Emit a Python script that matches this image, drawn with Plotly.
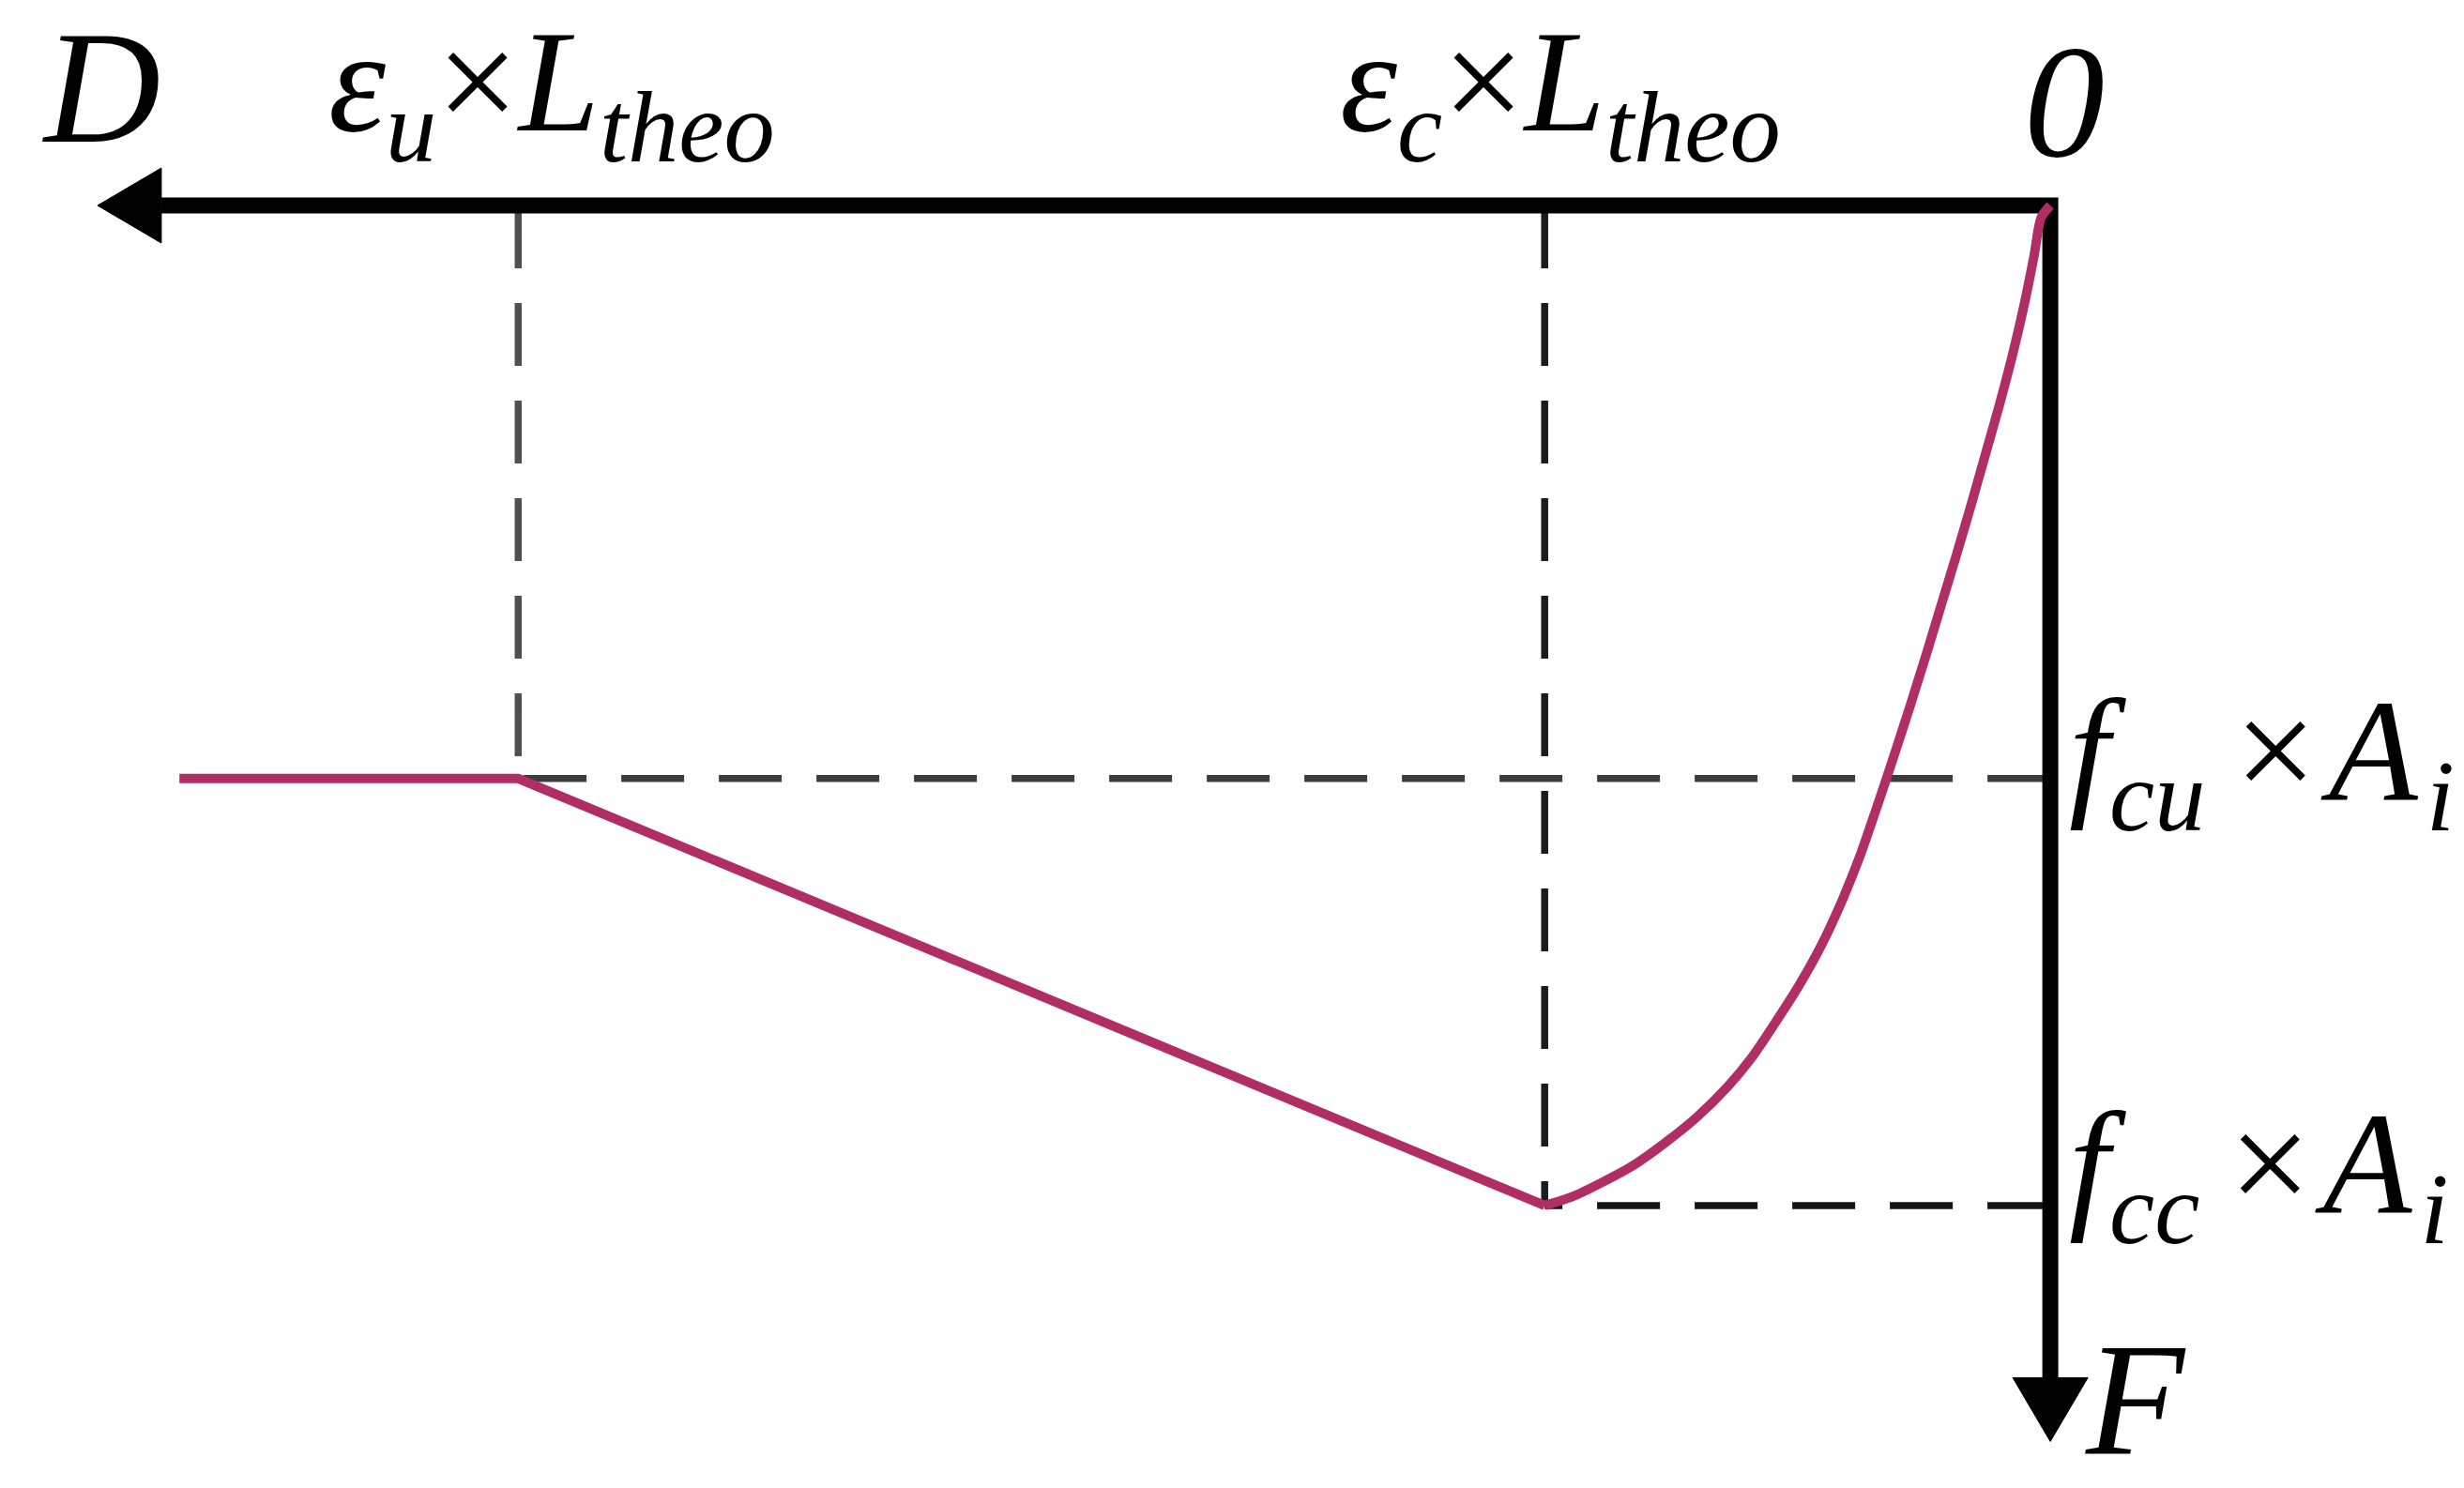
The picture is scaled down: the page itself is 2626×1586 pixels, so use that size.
import plotly.graph_objects as go

# ---------------- data (normalised: eps_c*L_theo = 1, f_cc*A_i = 1) ----------------
# ascending (pre-peak) branch
D_curve = [0.0, 0.018, 0.032, 0.052, 0.075, 0.101, 0.129, 0.157, 0.186, 0.216, 0.246,
           0.277, 0.309, 0.342, 0.376, 0.410, 0.453, 0.497, 0.545, 0.592, 0.638,
           0.700, 0.761, 0.825, 0.885, 0.945, 1.0]
F_curve = [0.0, 0.012, 0.05, 0.10, 0.15, 0.20, 0.25, 0.30, 0.35, 0.40, 0.45,
           0.50, 0.55, 0.60, 0.65, 0.693, 0.740, 0.780, 0.818, 0.853, 0.881,
           0.912, 0.937, 0.960, 0.9765, 0.991, 1.0]

eps_c_L = 1.0      # eps_c x L_theo
eps_u_L = 3.03     # eps_u x L_theo
fcc_A = 1.0        # f_cc x A_i
fcu_A = 0.573      # f_cu x A_i
D_end = 3.70       # end of plateau

D_post = [eps_c_L, eps_u_L, D_end]
F_post = [fcc_A, fcu_A, fcu_A]

# ---------------- layout geometry ----------------
W, H = 2626, 1586
x_range = [4.04, -0.833]
y_range = [1.29, -0.198]
D_axis_tip = 3.862
F_axis_tip = 1.236


def ux(px):
    return px * (x_range[0] - x_range[1]) / W


def uy(px):
    return px * (y_range[0] - y_range[1]) / H


def paper_x(px):
    return px / W


def paper_y(py):
    return 1 - py / H


CURVE = "#B02E63"
head_len, head_half = 68, 40

fig = go.Figure()

fig.add_trace(go.Scatter(x=D_curve, y=F_curve, mode="lines",
                         line=dict(color=CURVE, width=10, shape="spline", smoothing=0.8),
                         hoverinfo="skip"))
fig.add_trace(go.Scatter(x=D_post, y=F_post, mode="lines",
                         line=dict(color=CURVE, width=10), hoverinfo="skip"))

shapes = []
dash = "67px,37px"
# dashed guides (drawn from the axes outward)
shapes.append(dict(type="line", x0=eps_u_L, y0=0, x1=eps_u_L, y1=fcu_A,
                   line=dict(color="#4f4f4f", width=7.5, dash=dash), layer="below"))
shapes.append(dict(type="line", x0=0, y0=fcu_A, x1=eps_u_L, y1=fcu_A,
                   line=dict(color="#3c3c3c", width=7.5, dash=dash), layer="below"))
shapes.append(dict(type="line", x0=eps_c_L, y0=0, x1=eps_c_L, y1=fcc_A,
                   line=dict(color="#1c1c1c", width=7.5, dash=dash), layer="below"))
shapes.append(dict(type="line", x0=0, y0=fcc_A, x1=eps_c_L, y1=fcc_A,
                   line=dict(color="#141414", width=7.5, dash=dash), layer="below"))

# axes as an L-shaped path
xb = D_axis_tip - ux(head_len)
yb = F_axis_tip - uy(head_len)
shapes.append(dict(type="path", path=f"M {xb} 0 L 0 0 L 0 {yb}",
                   line=dict(color="black", width=17), layer="below"))
# arrow heads
shapes.append(dict(type="path",
                   path=f"M {D_axis_tip} 0 L {xb} {-uy(head_half)} L {xb} {uy(head_half)} Z",
                   fillcolor="black", line=dict(color="black", width=1), layer="below"))
shapes.append(dict(type="path",
                   path=f"M 0 {F_axis_tip} L {ux(head_half)} {yb} L {-ux(head_half)} {yb} Z",
                   fillcolor="black", line=dict(color="black", width=1), layer="below"))

FONT = "Liberation Serif"
big = dict(family=FONT, size=172, color="black")
tick = dict(family=FONT, size=155, color="black")
TS = "\u2009"  # thin space
HS = "\u200a"  # hair space

annotations = [
    dict(text="<i>D</i>", x=paper_x(100), y=paper_y(85), xanchor="center", yanchor="middle", font=big),
    dict(text="<i>0</i>", x=paper_x(2192), y=paper_y(100), xanchor="center", yanchor="middle", font=big),
    dict(text="<i>F</i>", x=paper_x(2212), y=paper_y(1484), xanchor="left", yanchor="middle", font=big),
    dict(text="<i>ε</i><sub><i>u</i></sub>×<i>L</i><sub><i>theo</i></sub>",
         x=paper_x(580), y=paper_y(90), xanchor="center", yanchor="middle", font=tick),
    dict(text="<i>ε</i><sub><i>c</i></sub>×<i>L</i><sub><i>theo</i></sub>",
         x=paper_x(1655), y=paper_y(90), xanchor="center", yanchor="middle", font=tick),
    dict(text=f"<i>f</i><sub><i>cu</i></sub>{TS}×{HS}<i>A</i><sub>{HS}<i>i</i></sub>",
         x=paper_x(2195), y=paper_y(803), xanchor="left", yanchor="middle", font=tick),
    dict(text=f"<i>f</i><sub><i>cc</i></sub>{TS}×{HS}<i>A</i><sub>{HS}<i>i</i></sub>",
         x=paper_x(2195), y=paper_y(1243), xanchor="left", yanchor="middle", font=tick),
]
for a in annotations:
    a.update(xref="paper", yref="paper", showarrow=False)

fig.update_layout(
    width=W, height=H,
    margin=dict(l=0, r=0, t=0, b=0),
    paper_bgcolor="white", plot_bgcolor="white",
    showlegend=False,
    xaxis=dict(range=x_range, visible=False, fixedrange=True),
    yaxis=dict(range=y_range, visible=False, fixedrange=True),
    shapes=shapes,
    annotations=annotations,
)

fig.write_html("out.html")
